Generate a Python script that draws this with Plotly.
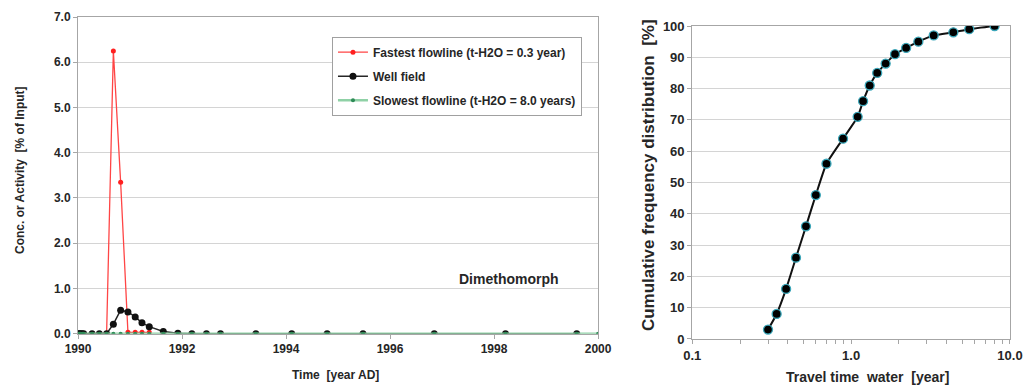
import plotly.graph_objects as go

# ---------------- data: left panel ----------------
time_well = [1990.0, 1990.03, 1990.05, 1990.08, 1990.11, 1990.27, 1990.41, 1990.55,
             1990.68, 1990.82, 1990.96, 1991.10, 1991.23, 1991.37, 1991.64, 1991.92,
             1992.19, 1992.47, 1992.74, 1993.42, 1994.11, 1994.79, 1995.48, 1996.85,
             1998.22, 1999.59]
well_field = [0, 0, 0, 0, 0, 0, 0, 0, 0.21, 0.52, 0.48, 0.37, 0.24, 0.155, 0.05, 0.01,
              0, 0, 0, 0, 0, 0, 0, 0, 0, 0]

time_fast = [1990.0, 1990.03, 1990.05, 1990.08, 1990.11, 1990.27, 1990.41, 1990.55,
             1990.68, 1990.82, 1990.96, 1991.10, 1991.23, 1991.37]
fastest = [0, 0, 0, 0, 0, 0, 0, 0, 6.25, 3.35, 0.03, 0.03, 0.03, 0.03]

time_slow = time_well + [2000.0]
slowest = [0] * len(time_slow)

left_xticks = [1990, 1992, 1994, 1996, 1998, 2000]
left_yticks = [0, 1, 2, 3, 4, 5, 6, 7]

# ---------------- data: right panel ----------------
travel_time = [0.30, 0.34, 0.39, 0.45, 0.52, 0.60, 0.70, 0.89, 1.10, 1.19, 1.31, 1.46,
               1.65, 1.89, 2.22, 2.65, 3.31, 4.40, 5.54, 8.0]
cum_freq = [3, 8, 16, 26, 36, 46, 56, 64, 71, 76, 81, 85, 88, 91, 93, 95, 97, 98, 99, 100]

right_xticks = [0.1, 0.2, 0.3, 0.4, 0.5, 0.6, 0.7, 0.8, 0.9,
                1, 2, 3, 4, 5, 6, 7, 8, 9, 10]
right_xtext = ["0.1", "", "", "", "", "", "", "", "",
               "1.0", "", "", "", "", "", "", "", "", "10.0"]

FONT = "Liberation Sans, Arial, sans-serif"
TXT = "#262626"
GRID = "#d4d4d4"
AXL = "#a6a6a6"

fig = go.Figure()

fig.add_trace(go.Scatter(
    x=time_fast, y=fastest, mode="lines+markers", name="Fastest flowline (t-H2O = 0.3 year)",
    line=dict(color="#ff4545", width=1.3), marker=dict(color="#ff2020", size=5),
    legendgroup="a", xaxis="x", yaxis="y"))
fig.add_trace(go.Scatter(
    x=time_well, y=well_field, mode="lines+markers", name="Well field",
    line=dict(color="#262626", width=1.5), marker=dict(color="#111111", size=7),
    legendgroup="b", xaxis="x", yaxis="y"))
fig.add_trace(go.Scatter(
    x=time_slow, y=slowest, mode="lines+markers", name="Slowest flowline (t-H2O = 8.0 years)",
    line=dict(color="#8fd1a6", width=2.5), marker=dict(color="#2e8b57", size=4),
    legendgroup="c", xaxis="x", yaxis="y"))

fig.add_trace(go.Scatter(
    x=travel_time, y=cum_freq, mode="lines+markers", showlegend=False,
    line=dict(color="#111111", width=2, shape="spline", smoothing=0.5),
    marker=dict(color="#000000", size=9, line=dict(color="#3aa6b9", width=1.3)),
    xaxis="x2", yaxis="y2"))

tickfont_l = dict(family=FONT, size=12, color=TXT, weight="bold")
tickfont_r = dict(family=FONT, size=13, color=TXT, weight="bold")

fig.update_layout(
    width=1025, height=390,
    margin=dict(l=78, r=15, t=17, b=51, autoexpand=False),
    paper_bgcolor="white", plot_bgcolor="white",
    font=dict(family=FONT, color=TXT),
    xaxis=dict(domain=[0, 0.558], range=[1990, 2000], tickvals=left_xticks,
               ticks="outside", ticklen=4, tickcolor=AXL, showgrid=False,
               showline=True, mirror=True, linecolor=AXL, linewidth=1,
               tickfont=tickfont_l, zeroline=False, anchor="y", automargin=False),
    yaxis=dict(domain=[0.0165, 1], range=[0, 7], tickvals=left_yticks,
               tickformat=".1f", ticks="outside", ticklen=4, tickcolor=AXL,
               showgrid=True, gridcolor=GRID, gridwidth=1,
               showline=True, mirror=True, linecolor=AXL, linewidth=1,
               tickfont=tickfont_l, zeroline=False, anchor="x", automargin=False),
    xaxis2=dict(domain=[0.659, 1], type="log", range=[-1, 1], tickvals=right_xticks,
                ticktext=right_xtext, ticks="outside", ticklen=4, tickcolor=AXL,
                showgrid=False, showline=True, mirror=True, linecolor=AXL, linewidth=1,
                tickfont=tickfont_r, zeroline=False, anchor="y2", automargin=False),
    yaxis2=dict(domain=[0, 0.972], range=[0, 100], dtick=10,
                ticks="outside", ticklen=4, tickcolor=AXL,
                showgrid=True, gridcolor=GRID, gridwidth=1,
                showline=True, mirror=True, linecolor=AXL, linewidth=1,
                tickfont=tickfont_r, zeroline=False, anchor="x2", automargin=False),
    legend=dict(x=0.2725, y=0.939, xanchor="left", yanchor="top",
                bgcolor="white", bordercolor="#a0a0a0", borderwidth=1,
                font=dict(family=FONT, size=12, color=TXT, weight="bold"),
                tracegroupgap=5, itemwidth=30),
    showlegend=True,
)

ann_font = dict(family=FONT, color=TXT, weight="bold")
common = dict(xref="paper", yref="paper", showarrow=False, xanchor="center", yanchor="middle")
fig.add_annotation(text="Conc. or Activity  [% of Input]", x=-0.0622, y=0.525, textangle=-90,
                   font=dict(size=12, **ann_font), **common)
fig.add_annotation(text="Time  [year AD]", x=0.2768, y=-0.112,
                   font=dict(size=12, **ann_font), **common)
fig.add_annotation(text="Dimethomorph", x=0.4625, y=0.186,
                   font=dict(size=14, **ann_font), **common)
fig.add_annotation(text="Cumulative frequency distribution  [%]", x=0.6116, y=0.509,
                   textangle=-90, font=dict(size=17, **ann_font), **common)
fig.add_annotation(text="Travel time  water  [year]", x=0.847, y=-0.118,
                   font=dict(size=14, **ann_font), **common)

# remove the browser's default 8px body margin so the figure fills the window exactly
fig.write_html("out.html",
               config={"displayModeBar": False},
               post_script="document.body.style.margin='0';document.body.style.overflow='hidden';")
